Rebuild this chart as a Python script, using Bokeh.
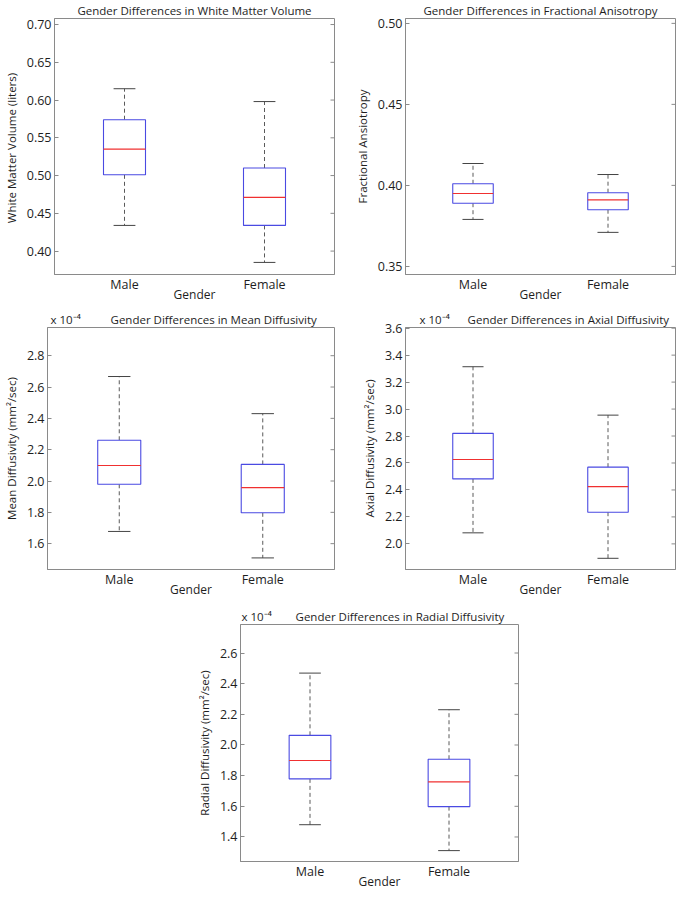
from bokeh.plotting import figure
from bokeh.layouts import column, row, Spacer
from bokeh.models import (FixedTicker, LinearAxis, Range1d,
                          NumeralTickFormatter, ColumnDataSource)
from bokeh.embed import file_html
from bokeh.resources import INLINE

# ---------------- data ----------------
genders = ["Male", "Female"]

# White matter volume (liters)
wmv_lower = [0.434, 0.385]
wmv_q1 = [0.501, 0.434]
wmv_median = [0.535, 0.471]
wmv_q3 = [0.574, 0.510]
wmv_upper = [0.615, 0.598]
wmv_ticks = [0.40, 0.45, 0.50, 0.55, 0.60, 0.65, 0.70]

# Fractional anisotropy
fa_lower = [0.379, 0.371]
fa_q1 = [0.389, 0.385]
fa_median = [0.395, 0.391]
fa_q3 = [0.401, 0.3955]
fa_upper = [0.4135, 0.4067]
fa_ticks = [0.35, 0.40, 0.45, 0.50]

# Mean diffusivity (x 10^-4 mm^2/sec)
md_lower = [1.678, 1.509]
md_q1 = [1.979, 1.797]
md_median = [2.099, 1.958]
md_q3 = [2.260, 2.106]
md_upper = [2.667, 2.430]
md_ticks = [1.6, 1.8, 2.0, 2.2, 2.4, 2.6, 2.8]

# Axial diffusivity (x 10^-4 mm^2/sec)
ad_lower = [2.082, 1.893]
ad_q1 = [2.482, 2.235]
ad_median = [2.626, 2.425]
ad_q3 = [2.820, 2.569]
ad_upper = [3.314, 2.955]
ad_ticks = [2.0, 2.2, 2.4, 2.6, 2.8, 3.0, 3.2, 3.4, 3.6]

# Radial diffusivity (x 10^-4 mm^2/sec)
rd_lower = [1.480, 1.311]
rd_q1 = [1.779, 1.598]
rd_median = [1.899, 1.760]
rd_q3 = [2.063, 1.907]
rd_upper = [2.469, 2.230]
rd_ticks = [1.4, 1.6, 1.8, 2.0, 2.2, 2.4, 2.6]

EXPONENT = "x 10\u207b\u2074"

FONT = "Open Sans"
BOX_COLOR = "#4a4ae2"
MED_COLOR = "#f03030"
WHISK_COLOR = "#5a5a5a"
FRAME_COLOR = "#8a8a8a"
TEXT_COLOR = "#1e1e1e"


def panel(title, ylabel, stats, yr, ticks, fmt, width, height, borders,
          exponent_gap=None, title_offset=0):
    lower, q1, med, q3, upper = stats
    xs = [i + 1 for i in range(len(genders))]
    box_hw = 0.15
    cap_hw = 0.078
    src = ColumnDataSource(dict(
        x=xs, lower=lower, q1=q1, med=med, q3=q3, upper=upper,
        bl=[x - box_hw for x in xs], br=[x + box_hw for x in xs],
        cl=[x - cap_hw for x in xs], cr=[x + cap_hw for x in xs],
    ))
    xr = Range1d(0.5, 2.5)
    p = figure(width=width, height=height,
               x_range=xr, y_range=Range1d(*yr),
               output_backend="svg", toolbar_location=None,
               x_axis_type=None, y_axis_type=None,
               min_border_left=borders[0], min_border_right=borders[1],
               min_border_top=borders[2], min_border_bottom=borders[3])
    p.grid.visible = False
    p.outline_line_color = FRAME_COLOR
    p.outline_line_width = 1
    p.background_fill_color = "white"
    p.border_fill_color = "white"

    if exponent_gap is None:
        p.title.text = title
        p.title.align = "center"
    else:
        p.title.text = EXPONENT + "\u00a0" * exponent_gap + title
        p.title.align = "left"
        p.title.offset = title_offset
    p.title.text_font = FONT
    p.title.text_font_style = "normal"
    p.title.text_font_size = "11.5px"
    p.title.text_color = TEXT_COLOR
    p.title.standoff = 1

    # whiskers
    p.segment(x0="x", y0="q3", x1="x", y1="upper", source=src,
              line_color=WHISK_COLOR, line_dash="4 3", line_width=1)
    p.segment(x0="x", y0="q1", x1="x", y1="lower", source=src,
              line_color=WHISK_COLOR, line_dash="4 3", line_width=1)
    # caps
    p.segment(x0="cl", y0="upper", x1="cr", y1="upper", source=src,
              line_color="#444444", line_width=1)
    p.segment(x0="cl", y0="lower", x1="cr", y1="lower", source=src,
              line_color="#444444", line_width=1)
    # boxes
    p.quad(left="bl", right="br", bottom="q1", top="q3", source=src,
           fill_color="white", line_color=BOX_COLOR, line_width=1.1)
    # medians
    p.segment(x0="bl", y0="med", x1="br", y1="med", source=src,
              line_color=MED_COLOR, line_width=1.2)

    # inward tick marks on the right frame edge (half of each dash is clipped)
    p.scatter(x=[xr.end] * len(ticks), y=ticks, marker="dash", size=8,
              line_color=FRAME_COLOR, line_width=1)

    # axes
    ya = LinearAxis(ticker=FixedTicker(ticks=ticks),
                    formatter=NumeralTickFormatter(format=fmt),
                    axis_label=ylabel)
    ya.major_tick_in = 4
    ya.major_tick_out = 0
    ya.minor_tick_line_color = None
    ya.axis_line_color = FRAME_COLOR
    ya.major_tick_line_color = FRAME_COLOR
    ya.major_label_text_font = FONT
    ya.major_label_text_font_size = "12.5px"
    ya.major_label_text_color = TEXT_COLOR
    ya.major_label_standoff = 3
    ya.axis_label_text_font = FONT
    ya.axis_label_text_font_size = "11.5px"
    ya.axis_label_text_font_style = "normal"
    ya.axis_label_text_color = TEXT_COLOR
    ya.axis_label_standoff = 5
    p.add_layout(ya, "left")

    xa = LinearAxis(ticker=FixedTicker(ticks=xs),
                    major_label_overrides={x: g for x, g in zip(xs, genders)},
                    axis_label="Gender")
    xa.major_tick_in = 0
    xa.major_tick_out = 0
    xa.minor_tick_line_color = None
    xa.axis_line_color = FRAME_COLOR
    xa.major_label_text_font = FONT
    xa.major_label_text_font_size = "12.5px"
    xa.major_label_text_color = TEXT_COLOR
    xa.major_label_standoff = 1
    xa.axis_label_text_font = FONT
    xa.axis_label_text_font_size = "12px"
    xa.axis_label_text_font_style = "normal"
    xa.axis_label_text_color = TEXT_COLOR
    xa.axis_label_standoff = -10
    p.add_layout(xa, "below")
    return p


p1 = panel("Gender Differences in White Matter Volume",
           "White Matter Volume  (liters)",
           (wmv_lower, wmv_q1, wmv_median, wmv_q3, wmv_upper),
           (0.369, 0.708), wmv_ticks, "0.00", 350, 305, (45, 16, 12, 20))
p2 = panel("Gender Differences in Fractional Anisotropy",
           "Fractional Ansiotropy",
           (fa_lower, fa_q1, fa_median, fa_q3, fa_upper),
           (0.345, 0.503), fa_ticks, "0.00", 329, 305, (55, 4, 12, 20))
p3 = panel("Gender Differences in Mean Diffusivity",
           "Mean Diffusivity (mm\u00b2/sec)",
           (md_lower, md_q1, md_median, md_q3, md_upper),
           (1.435, 2.98), md_ticks, "0.0", 350, 295, (45, 16, 22, 20),
           exponent_gap=10, title_offset=3)
p4 = panel("Gender Differences in Axial Diffusivity",
           "Axial Diffusivity (mm\u00b2/sec)",
           (ad_lower, ad_q1, ad_median, ad_q3, ad_upper),
           (1.81, 3.605), ad_ticks, "0.0", 329, 295, (55, 4, 22, 20),
           exponent_gap=6, title_offset=14)
p5 = panel("Gender Differences in Radial Diffusivity",
           "Radial Diffusivity (mm\u00b2/sec)",
           (rd_lower, rd_q1, rd_median, rd_q3, rd_upper),
           (1.24, 2.786), rd_ticks, "0.0", 335, 292, (45, 10, 24, 20),
           exponent_gap=8, title_offset=1)

layout = column(row(p1, p2), row(p3, p4),
                row(Spacer(width=193, height=10), p5))

open("out.html", "w").write(file_html(layout, INLINE, title="Gender differences"))
